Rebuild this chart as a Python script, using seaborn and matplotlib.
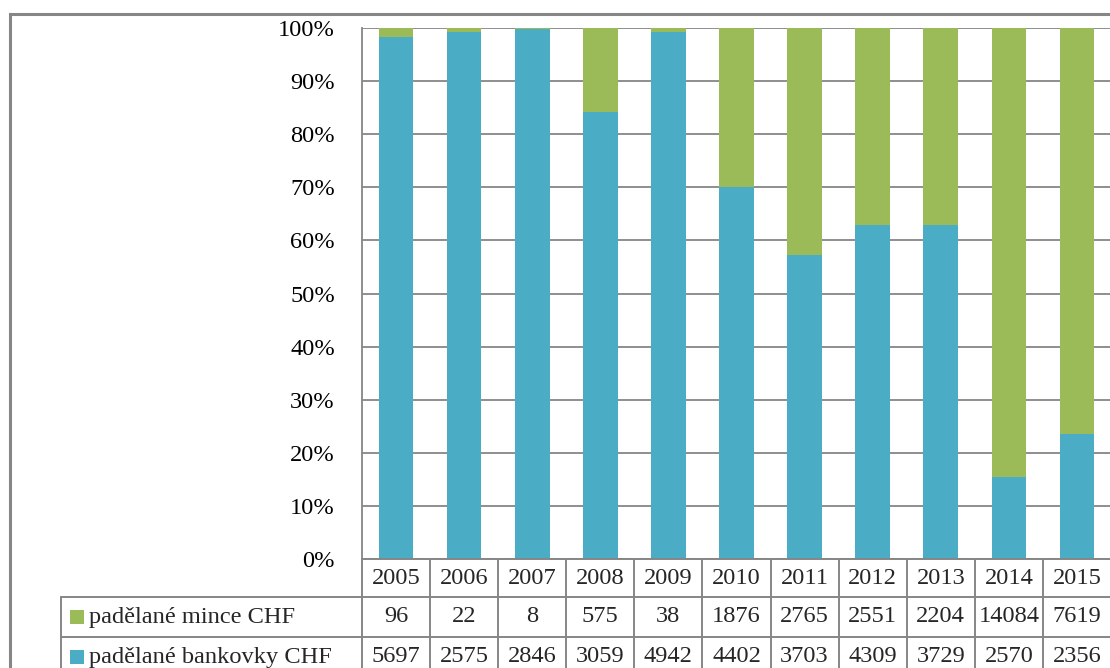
import matplotlib
matplotlib.use("Agg")
import matplotlib.pyplot as plt
import matplotlib.transforms as mtransforms
from matplotlib.patches import Rectangle
from matplotlib.ticker import PercentFormatter
import numpy as np
import pandas as pd
import seaborn as sns

years = ["2005", "2006", "2007", "2008", "2009", "2010",
         "2011", "2012", "2013", "2014", "2015"]
mince = [96, 22, 8, 575, 38, 1876, 2765, 2551, 2204, 14084, 7619]
bankovky = [5697, 2575, 2846, 3059, 4942, 4402, 3703, 4309, 3729, 2570, 2356]
label_mince = "padělané mince CHF"
label_bankovky = "padělané bankovky CHF"

GREEN = "#9BBB59"
BLUE = "#4BACC6"
GRID = "#868686"
FS = 17.6

sns.set_style("white")
plt.rcParams["font.family"] = ["Liberation Serif", "DejaVu Serif"]

W, H = 1110, 668
fig = plt.figure(figsize=(W / 100, H / 100), dpi=100)


def fx(px):
    return px / W


def fy(py):
    return 1 - py / H


# plot area
left, right, top, bottom = 362, 1111, 28, 559
ax = fig.add_axes([fx(left), fy(bottom), fx(right) - fx(left), fy(top) - fy(bottom)])

df = pd.DataFrame({"rok": years, "mince": mince, "bankovky": bankovky})
df["total"] = df["mince"] + df["bankovky"]
df["share_bank"] = df["bankovky"] / df["total"]
df["share_all"] = 1.0

sns.barplot(data=df, x="rok", y="share_all", color=GREEN, saturation=1,
            width=0.51, ax=ax, linewidth=0)
sns.barplot(data=df, x="rok", y="share_bank", color=BLUE, saturation=1,
            width=0.51, ax=ax, linewidth=0)

ax.set_xlim(-0.5, len(years) - 0.5)
ax.set_ylim(0, 1)
ax.set_yticks(np.arange(0, 1.01, 0.1))
ax.yaxis.set_major_formatter(PercentFormatter(1.0, decimals=0))
ax.tick_params(axis="y", labelsize=FS, length=0, pad=19.5, colors="black")
ax.set_xticks([])
ax.set_xlabel("")
ax.set_ylabel("")
ax.grid(axis="y", color=GRID, linewidth=1.3)
ax.set_axisbelow(True)
for s in ["top", "right", "bottom"]:
    ax.spines[s].set_visible(False)
ax.spines["left"].set_color(GRID)
ax.spines["left"].set_linewidth(1.3)

# outer chart border
fig.add_artist(Rectangle((fx(10), fy(H + 20)), fx(W + 20), fy(13.5) - fy(H + 20),
                         transform=fig.transFigure, fill=False,
                         edgecolor=GRID, linewidth=2.2))

# data table under the plot
tr = mtransforms.blended_transform_factory(ax.transData, fig.transFigure)
lw = 1.4
n = len(years)
rows = [559, 597, 637, 677]
tab_left = 61

ax.plot([-0.5, n - 0.5], [fy(rows[0])] * 2, transform=tr, color=GRID,
        lw=lw, clip_on=False)
for r in rows[1:3]:
    fig.add_artist(plt.Line2D([fx(tab_left), 1.01], [fy(r)] * 2,
                              transform=fig.transFigure, color=GRID, lw=lw))
fig.add_artist(plt.Line2D([fx(tab_left)] * 2, [fy(rows[1]), fy(rows[3])],
                          transform=fig.transFigure, color=GRID, lw=lw))
for i in range(n + 1):
    ax.plot([i - 0.5] * 2, [fy(rows[0]), fy(rows[3])], transform=tr,
            color=GRID, lw=lw, clip_on=False)

for i, yr in enumerate(years):
    ax.text(i, fy((rows[0] + rows[1]) / 2), yr, transform=tr,
            ha="center", va="center", fontsize=FS)
    ax.text(i, fy((rows[1] + rows[2]) / 2), str(mince[i]), transform=tr,
            ha="center", va="center", fontsize=FS)
    ax.text(i, fy((rows[2] + rows[3]) / 2), str(bankovky[i]), transform=tr,
            ha="center", va="center", fontsize=FS)

for (r0, r1), lab, col in [((rows[1], rows[2]), label_mince, GREEN),
                           ((rows[2], rows[3]), label_bankovky, BLUE)]:
    mid = (r0 + r1) / 2
    fig.add_artist(Rectangle((fx(70), fy(mid + 7)), fx(14), fy(0) - fy(14),
                             transform=fig.transFigure, facecolor=col,
                             edgecolor="none"))
    fig.text(fx(89), fy(mid), lab, ha="left", va="center", fontsize=FS)

fig.savefig("out.png", dpi=100)
